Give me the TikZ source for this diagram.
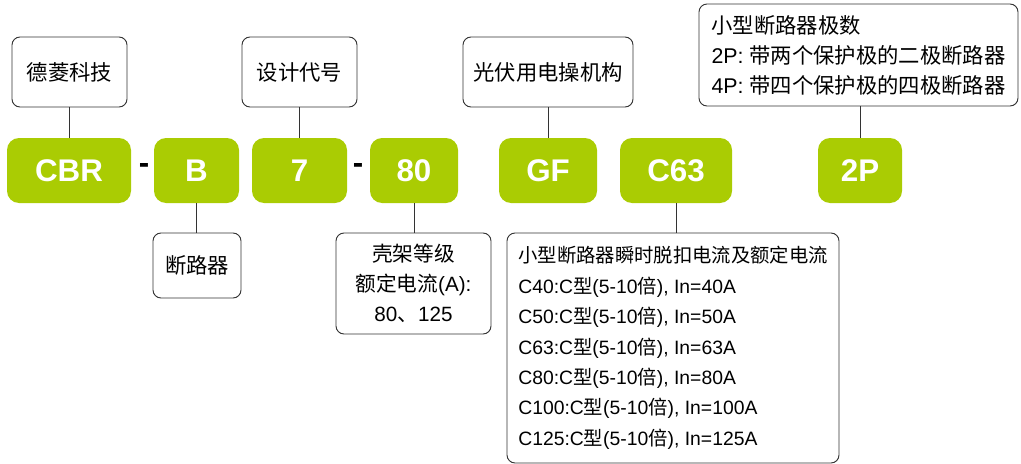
\documentclass[tikz,border=0pt]{standalone}
\usepackage{fontspec}
\setmainfont{Liberation Sans}
\newfontfamily\cjk{Noto Sans CJK SC}
\newcommand{\zh}[1]{{\cjk #1}}
\usetikzlibrary{positioning}

\definecolor{lime}{RGB}{170,204,3}
\definecolor{wire}{RGB}{51,51,51}

\begin{document}
\begin{tikzpicture}[
    x=0.75pt, y=-0.75pt,
    code/.style={rectangle, rounded corners=9pt, fill=lime, text=white,
      font=\fontsize{23.5}{28}\bfseries\selectfont, minimum height=48.75pt, inner sep=0pt},
    note/.style={rectangle, rounded corners=6pt, draw=wire, line width=0.7pt, fill=white,
      font=\fontsize{16}{22.5}\selectfont, inner sep=0pt},
    sep/.style={font=\fontsize{23.5}{28}\bfseries\selectfont, inner sep=0pt},
    wire/.style={draw=wire, line width=0.7pt},
  ]

  \useasboundingbox (0,0) rectangle (1021,464);

  % code parts
  \node[code, minimum width=93pt]    (cbr) at (69,170.5)  {CBR};
  \node[code, minimum width=63.75pt] (b)   at (196.5,170.5) {B};
  \node[code, minimum width=71.25pt] (n7)  at (299.5,170.5) {7};
  \node[code, minimum width=66pt]    (n80) at (414,170.5) {80};
  \node[code, minimum width=73.5pt]  (gf)  at (548,170.5) {GF};
  \node[code, minimum width=84pt]    (c63) at (676,170.5) {C63};
  \node[code, minimum width=63pt]    (p2)  at (860,170.5) {2P};

  \node[sep] (dasha) at (144,169) {-};
  \node[sep] (dashb) at (358,169) {-};

  % notes above
  \node[note, minimum width=86.25pt, minimum height=52.5pt] (brand) at (69.5,72) {\zh{德菱科技}};
  \node[note, minimum width=86.25pt, minimum height=52.5pt] (design) at (299.5,72) {\zh{设计代号}};
  \node[note, minimum width=127.5pt, minimum height=52.5pt] (pv) at (548,72) {\zh{光伏用电操机构}};
  \node[note, minimum width=239.25pt, minimum height=76.5pt, align=left] (poles) at (858.5,55)
    {\zh{小型断路器极数}\\
     2P: \zh{带两个保护极的二极断路器}\\
     4P: \zh{带四个保护极的四极断路器}};

  % notes below
  \node[note, minimum width=66pt, minimum height=48.75pt] (mcb) at (197,265.5) {\zh{断路器}};
  \node[note, minimum width=116.25pt, minimum height=75.75pt, align=center,
    font=\fontsize{15.5}{22.5}\selectfont] (frame) at (413.5,283.5)
    {\zh{壳架等级}\\ \zh{额定电流}(A):\\ 80\zh{、}125};
  \node[note, minimum width=249pt, minimum height=172.5pt, align=left,
    font=\fontsize{14.5}{22.8}\selectfont] (trip) at (673,348)
    {\zh{小型断路器瞬时脱扣电流及额定电流}\\
     C40:C\zh{型}(5-10\zh{倍}), In=40A\\
     C50:C\zh{型}(5-10\zh{倍}), In=50A\\
     C63:C\zh{型}(5-10\zh{倍}), In=63A\\
     C80:C\zh{型}(5-10\zh{倍}), In=80A\\
     C100:C\zh{型}(5-10\zh{倍}), In=100A\\
     C125:C\zh{型}(5-10\zh{倍}), In=125A};

  % connectors
  \draw[wire] (cbr.north) -- (cbr.north |- brand.south);
  \draw[wire] (n7.north) -- (n7.north |- design.south);
  \draw[wire] (gf.north) -- (gf.north |- pv.south);
  \draw[wire] (p2.north) -- (p2.north |- poles.south);
  \draw[wire] (b.south) -- (b.south |- mcb.north);
  \draw[wire] (n80.south) -- (n80.south |- frame.north);
  \draw[wire] (c63.south) -- (c63.south |- trip.north);
\end{tikzpicture}
\end{document}
